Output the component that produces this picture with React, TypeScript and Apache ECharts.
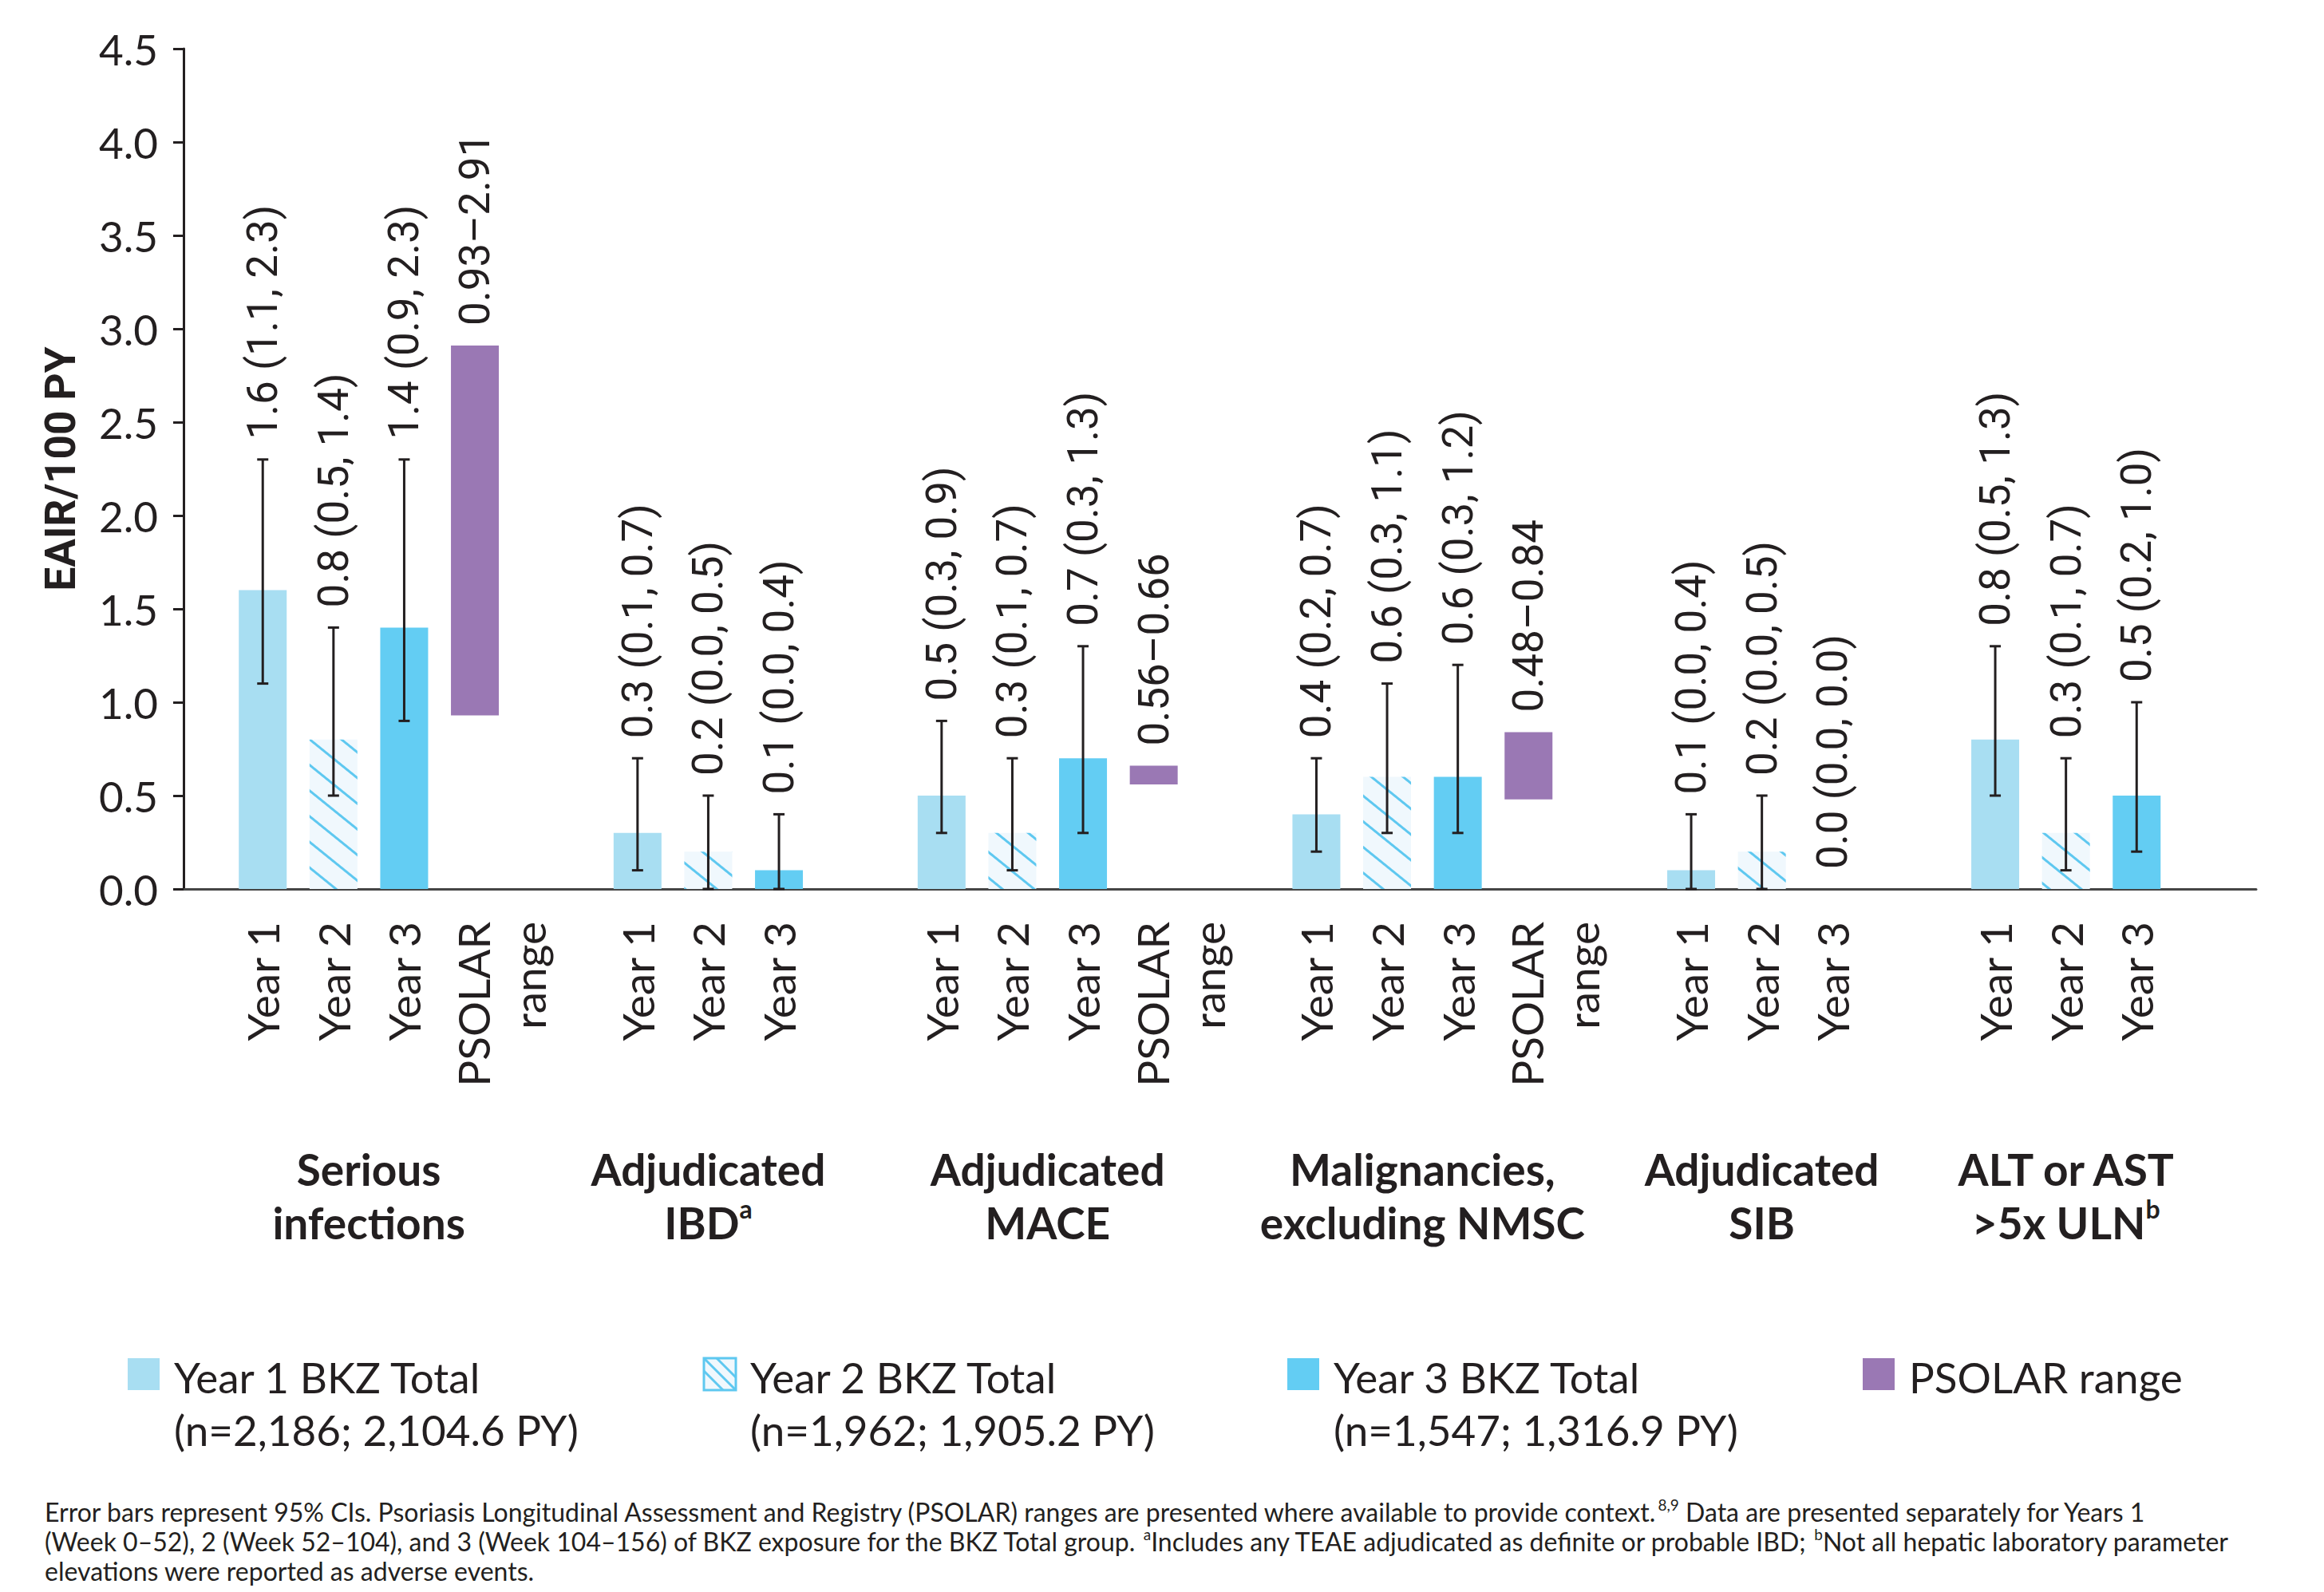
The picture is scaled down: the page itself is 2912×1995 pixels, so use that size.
import React, { useEffect, useRef } from "react";
import * as echarts from "echarts";

// ---------------- data ----------------
const groupTitles = [
  "Serious\ninfections",
  "Adjudicated\nIBD",
  "Adjudicated\nMACE",
  "Malignancies,\nexcluding NMSC",
  "Adjudicated\nSIB",
  "ALT or AST\n>5x ULN",
];
const groupSup = ["", "a", "", "", "", "b"];

const slotLabels = ["Year 1", "Year 2", "Year 3"];
const psolarSlotLabel = "PSOLAR\nrange";

const year1 = [1.6, 0.3, 0.5, 0.4, 0.1, 0.8];
const year1Low = [1.1, 0.1, 0.3, 0.2, 0.0, 0.5];
const year1High = [2.3, 0.7, 0.9, 0.7, 0.4, 1.3];

const year2 = [0.8, 0.2, 0.3, 0.6, 0.2, 0.3];
const year2Low = [0.5, 0.0, 0.1, 0.3, 0.0, 0.1];
const year2High = [1.4, 0.5, 0.7, 1.1, 0.5, 0.7];

const year3 = [1.4, 0.1, 0.7, 0.6, 0.0, 0.5];
const year3Low = [0.9, 0.0, 0.3, 0.3, 0.0, 0.2];
const year3High = [2.3, 0.4, 1.3, 1.2, 0.0, 1.0];

const psolarLow: (number | null)[] = [0.93, null, 0.56, 0.48, null, null];
const psolarHigh: (number | null)[] = [2.91, null, 0.66, 0.84, null, null];

const yMin = 0;
const yMax = 4.5;
const yInterval = 0.5;
const yAxisTitle = "EAIR/100 PY";

const legendLabels = ["Year 1 BKZ Total", "Year 2 BKZ Total", "Year 3 BKZ Total", "PSOLAR range"];
const legendSubs = ["(n=2,186; 2,104.6 PY)", "(n=1,962; 1,905.2 PY)", "(n=1,547; 1,316.9 PY)", ""];

const footLine1a =
  "Error bars represent 95% CIs. Psoriasis Longitudinal Assessment and Registry (PSOLAR) ranges are presented where available to provide context.";
const footLine1b = " Data are presented separately for Years 1";
const footLine2a =
  "(Week 0\u201352), 2 (Week 52\u2013104), and 3 (Week 104\u2013156) of BKZ exposure for the BKZ Total group. ";
const footLine2b = "Includes any TEAE adjudicated as definite or probable IBD; ";
const footLine2c = "Not all hepatic laboratory parameter";
const footLine3 = "elevations were reported as adverse events.";

// ---------------- styles / layout ----------------
const INK = "#231f20";
const C_Y1 = "#a8def2";
const C_Y2_BG = "#f0f8fd";
const C_Y2_LINE = "#5ec8f0";
const C_Y3 = "#63cdf3";
const C_PS = "#9a78b4";
const BAR_W = 60;
const GROUP_GAP = 2.3; // slot units between last bar of a group and first bar of next

const W = 2912;
const H = 1995;

const fmt1 = (v: number) => v.toFixed(1);

export default function App() {
  const ref = useRef<HTMLDivElement>(null);

  useEffect(() => {
    if (!ref.current) return;
    const chart = echarts.init(ref.current, undefined, { renderer: "svg" });

    // slot positions
    const starts: number[] = [];
    let s = 0;
    groupTitles.forEach((_, g) => {
      starts.push(s);
      const n = psolarLow[g] != null ? 4 : 3;
      s += n - 1 + GROUP_GAP;
    });
    const nSlots = (g: number) => (psolarLow[g] != null ? 4 : 3);

    const years = [
      { v: year1, lo: year1Low, hi: year1High },
      { v: year2, lo: year2Low, hi: year2High },
      { v: year3, lo: year3Low, hi: year3High },
    ];

    const errData: number[][] = [];
    const valAnchors: number[][] = [];
    const valTexts: string[] = [];
    years.forEach((y, k) => {
      y.v.forEach((v, g) => {
        const x = starts[g] + k;
        errData.push([x, y.lo[g], y.hi[g]]);
        valAnchors.push([x, y.hi[g]]);
        valTexts.push(`${fmt1(v)} (${fmt1(y.lo[g])}, ${fmt1(y.hi[g])})`);
      });
    });
    const psData: number[][] = [];
    psolarLow.forEach((lo, g) => {
      const hi = psolarHigh[g];
      if (lo != null && hi != null) {
        const x = starts[g] + 3;
        psData.push([x, lo, hi]);
        valAnchors.push([x, hi]);
        valTexts.push(`${lo.toFixed(2)}\u2013${hi.toFixed(2)}`);
      }
    });

    const catAnchors: number[][] = [];
    const catTexts: string[] = [];
    groupTitles.forEach((_, g) => {
      slotLabels.forEach((lab, k) => {
        catAnchors.push([starts[g] + k, 0]);
        catTexts.push(lab);
      });
      if (psolarLow[g] != null) {
        catAnchors.push([starts[g] + 3, 0]);
        catTexts.push(psolarSlotLabel);
      }
    });

    const grpAnchors = groupTitles.map((_, g) => [starts[g] + (nSlots(g) - 1) / 2, 0]);
    const grpTexts = groupTitles.map((t, g) => (groupSup[g] ? `${t}{sup|${groupSup[g]}}` : t));

    const lastX = starts[starts.length - 1] + nSlots(starts.length - 1) - 1;

    const legendX = [160, 882, 1613, 2334];
    const LEG_Y = 1702;
    const SW = 40;
    const legendFills = [C_Y1, C_Y2_BG, C_Y3, C_PS];
    const graphic: any[] = [];
    legendLabels.forEach((lab, i) => {
      const x = legendX[i];
      if (i === 1) {
        graphic.push({
          type: "rect",
          shape: { x, y: LEG_Y, width: SW, height: SW },
          style: { fill: C_Y2_BG, stroke: C_Y2_LINE, lineWidth: 3 },
        });
        const segs = [
          [x + 16, LEG_Y, x + SW, LEG_Y + SW - 16],
          [x, LEG_Y, x + SW, LEG_Y + SW],
          [x, LEG_Y + 16, x + SW - 16, LEG_Y + SW],
        ];
        segs.forEach(([x1, y1, x2, y2]) =>
          graphic.push({
            type: "line",
            shape: { x1, y1, x2, y2 },
            style: { stroke: C_Y2_LINE, lineWidth: 3 },
          })
        );
      } else {
        graphic.push({
          type: "rect",
          shape: { x, y: LEG_Y, width: SW, height: SW },
          style: { fill: legendFills[i] },
        });
      }
      graphic.push({
        type: "text",
        x: x + 58,
        y: LEG_Y - 10,
        style: {
          text: legendSubs[i] ? `${lab}\n${legendSubs[i]}` : lab,
          fill: INK,
          fontFamily: "Lato",
          fontSize: 53,
          lineHeight: 66,
          textAlign: "left",
          textVerticalAlign: "top",
        },
      });
    });
    graphic.push({
      type: "text",
      x: 56,
      y: 1876,
      style: {
        text:
          `${footLine1a}{sup|8,9}${footLine1b}\n` +
          `${footLine2a}{sup|a}${footLine2b}{sup|b}${footLine2c}\n` +
          footLine3,
        fill: INK,
        fontFamily: "Lato",
        fontSize: 32,
        lineHeight: 37,
        textAlign: "left",
        textVerticalAlign: "top",
        rich: {
          sup: { fontFamily: "Lato", fontSize: 19, fill: INK, verticalAlign: "top", lineHeight: 26 },
        },
      },
    });

    const option: any = {
      animation: false,
      backgroundColor: "#ffffff",
      grid: { left: 230, right: W - 2827, top: 61, bottom: H - 1114, containLabel: false },
      xAxis: {
        type: "value",
        min: -1.12,
        max: lastX + 1.69,
        axisLine: { show: true, onZero: false, lineStyle: { color: "#454545", width: 3 } },
        axisTick: { show: false },
        axisLabel: { show: false },
        splitLine: { show: false },
      },
      yAxis: {
        type: "value",
        min: yMin,
        max: yMax,
        interval: yInterval,
        name: yAxisTitle,
        nameLocation: "middle",
        nameGap: 128,
        nameTextStyle: { fontFamily: "Roboto", fontWeight: "bold", fontSize: 53, color: INK },
        axisLine: { show: true, onZero: false, lineStyle: { color: INK, width: 3 } },
        axisTick: { show: true, length: 13, lineStyle: { color: INK, width: 3 } },
        axisLabel: {
          formatter: (v: number) => v.toFixed(1),
          fontFamily: "Lato",
          fontSize: 53,
          color: INK,
          margin: 32,
        },
        splitLine: { show: false },
      },
      graphic,
      series: [
        {
          name: legendLabels[0],
          type: "bar",
          barWidth: BAR_W,
          barGap: "-100%",
          silent: true,
          z: 2,
          itemStyle: { color: C_Y1 },
          data: year1.map((v, g) => [starts[g], v]),
        },
        {
          name: legendLabels[1],
          type: "bar",
          barWidth: BAR_W,
          barGap: "-100%",
          silent: true,
          z: 2,
          itemStyle: {
            color: C_Y2_BG,
            decal: {
              symbol: "rect",
              symbolSize: 1,
              dashArrayX: [1, 0],
              dashArrayY: [3, 22],
              rotation: 0.68,
              color: C_Y2_LINE,
            },
          },
          data: year2.map((v, g) => [starts[g] + 1, v]),
        },
        {
          name: legendLabels[2],
          type: "bar",
          barWidth: BAR_W,
          barGap: "-100%",
          silent: true,
          z: 2,
          itemStyle: { color: C_Y3 },
          data: year3.map((v, g) => [starts[g] + 2, v]),
        },
        {
          name: legendLabels[3],
          type: "custom",
          silent: true,
          clip: false,
          z: 2,
          encode: { x: 0, y: [1, 2] },
          data: psData,
          renderItem: (params: any, api: any) => {
            const p1 = api.coord([api.value(0), api.value(1)]);
            const p2 = api.coord([api.value(0), api.value(2)]);
            return {
              type: "rect",
              shape: { x: p2[0] - BAR_W / 2, y: p2[1], width: BAR_W, height: p1[1] - p2[1] },
              style: { fill: C_PS },
            };
          },
        },
        {
          name: "CI",
          type: "custom",
          silent: true,
          clip: false,
          z: 4,
          encode: { x: 0, y: [1, 2] },
          data: errData,
          renderItem: (params: any, api: any) => {
            const lo = api.value(1);
            const hi = api.value(2);
            if (hi === lo) return null;
            const p1 = api.coord([api.value(0), lo]);
            const p2 = api.coord([api.value(0), hi]);
            const cap = 7;
            const st = { stroke: INK, lineWidth: 3 };
            return {
              type: "group",
              children: [
                { type: "line", shape: { x1: p1[0], y1: p1[1], x2: p2[0], y2: p2[1] }, style: st },
                { type: "line", shape: { x1: p1[0] - cap, y1: p1[1], x2: p1[0] + cap, y2: p1[1] }, style: st },
                { type: "line", shape: { x1: p2[0] - cap, y1: p2[1], x2: p2[0] + cap, y2: p2[1] }, style: st },
              ],
            };
          },
        },
        {
          name: "values",
          type: "custom",
          silent: true,
          clip: false,
          z: 5,
          encode: { x: 0, y: 1 },
          data: valAnchors,
          renderItem: (params: any, api: any) => {
            const p = api.coord([api.value(0), api.value(1)]);
            return {
              type: "text",
              x: p[0],
              y: p[1] - 25,
              rotation: Math.PI / 2,
              style: {
                text: valTexts[params.dataIndex],
                fill: INK,
                fontFamily: "Roboto",
                fontSize: 53,
                textAlign: "left",
                textVerticalAlign: "middle",
              },
            };
          },
        },
        {
          name: "slots",
          type: "custom",
          silent: true,
          clip: false,
          z: 5,
          encode: { x: 0, y: 1 },
          data: catAnchors,
          renderItem: (params: any, api: any) => {
            const p = api.coord([api.value(0), api.value(1)]);
            const t = catTexts[params.dataIndex];
            const multi = t.indexOf("\n") >= 0;
            return {
              type: "text",
              x: p[0] + (multi ? 33 : 0),
              y: p[1] + 41,
              rotation: Math.PI / 2,
              style: {
                text: t,
                fill: INK,
                fontFamily: "Lato",
                fontSize: 55,
                lineHeight: 70,
                textAlign: "right",
                textVerticalAlign: "middle",
              },
            };
          },
        },
        {
          name: "groups",
          type: "custom",
          silent: true,
          clip: false,
          z: 5,
          encode: { x: 0, y: 1 },
          data: grpAnchors,
          renderItem: (params: any, api: any) => {
            const p = api.coord([api.value(0), api.value(1)]);
            return {
              type: "text",
              x: p[0],
              y: p[1] + 384,
              style: {
                text: grpTexts[params.dataIndex],
                fill: INK,
                fontFamily: "Lato",
                fontWeight: "bold",
                fontSize: 55,
                lineHeight: 67,
                textAlign: "center",
                textVerticalAlign: "middle",
                rich: {
                  sup: {
                    fontFamily: "Lato",
                    fontWeight: "bold",
                    fontSize: 32,
                    fill: INK,
                    verticalAlign: "top",
                    lineHeight: 40,
                  },
                },
              },
            };
          },
        },
      ],
    };

    chart.setOption(option);
    return () => chart.dispose();
  }, []);

  return (
    <div
      ref={ref}
      style={{ position: "absolute", left: 0, top: 0, width: W, height: H, background: "#fff" }}
    />
  );
}
